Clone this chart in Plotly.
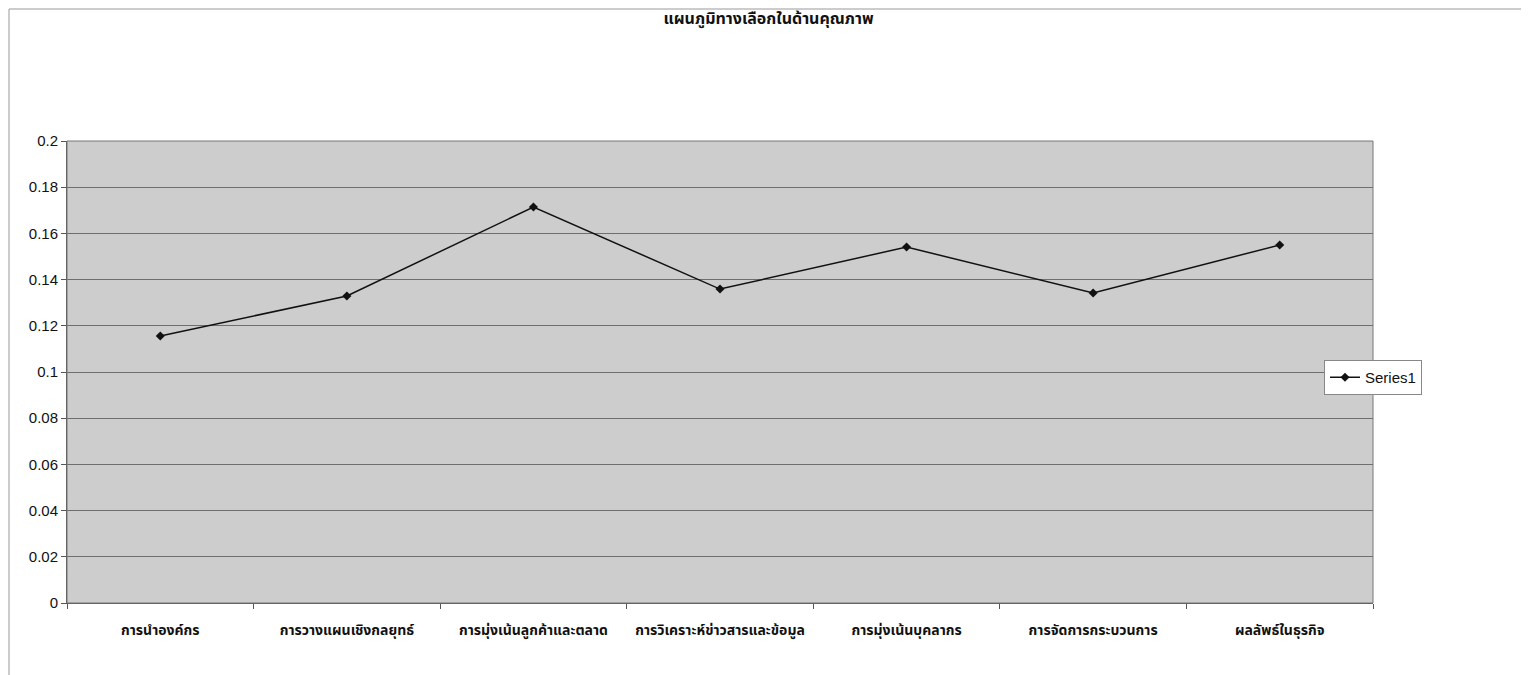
import plotly.graph_objects as go

categories = ["การนำองค์กร", "การวางแผนเชิงกลยุทธ์", "การมุ่งเน้นลูกค้าและตลาด",
              "การวิเคราะห์ข่าวสารและข้อมูล", "การมุ่งเน้นบุคลากร",
              "การจัดการกระบวนการ", "ผลลัพธ์ในธุรกิจ"]
series1 = [0.1156, 0.1329, 0.1714, 0.1359, 0.1541, 0.1342, 0.1550]
y_ticks = [0, 0.02, 0.04, 0.06, 0.08, 0.1, 0.12, 0.14, 0.16, 0.18, 0.2]
y_tick_labels = ["0", "0.02", "0.04", "0.06", "0.08", "0.1", "0.12", "0.14", "0.16", "0.18", "0.2"]

FONT = "Liberation Sans Narrow, Arial Narrow, Liberation Sans, Arial, Noto Sans Thai, sans-serif"

OFF = 8  # page body margin
W, H = 1529 - OFF, 675 - OFF
# page coordinates of plot area
L, R, T, B = 67, 1373, 141, 603

fig = go.Figure()
fig.add_trace(go.Scatter(
    x=categories, y=series1, name="Series1", mode="lines+markers",
    line=dict(color="#111111", width=1.5),
    marker=dict(symbol="diamond", size=7, color="#111111"),
))

def px(x):
    return (x - L) / (R - L)

def py(y):
    return (B - y) / (B - T)

fig.update_layout(
    width=W, height=H,
    margin=dict(l=L - OFF, r=W - (R - OFF), t=T - OFF, b=H - (B - OFF)),
    paper_bgcolor="white",
    plot_bgcolor="#cdcdcd",
    title=dict(text="<b>แผนภูมิทางเลือกในด้านคุณภาพ</b>", x=0.5, xanchor="center",
               y=1 - (18 - OFF) / H, yanchor="middle",
               font=dict(family=FONT, size=16, color="#111111")),
    font=dict(family=FONT, color="#111111"),
    showlegend=True,
    legend=dict(x=px(1324), y=py(360), xanchor="left", yanchor="top",
                bgcolor="white", bordercolor="#888888", borderwidth=1,
                font=dict(family=FONT, size=15, color="#111111")),
    xaxis=dict(type="category", tickson="boundaries", ticks="outside", ticklen=5,
               tickcolor="#555555", showgrid=False, showline=True, linecolor="#555555",
               linewidth=1, ticklabelstandoff=14,
               tickvals=categories, ticktext=[f"<b>{c}</b>" for c in categories],
               tickfont=dict(family=FONT, size=14, color="#111111"),
               range=[-0.5, 6.5]),
    yaxis=dict(range=[0, 0.2], tickvals=y_ticks, ticktext=y_tick_labels,
               ticks="outside", ticklen=5, tickcolor="#555555",
               showgrid=True, gridcolor="#6e6e6e", gridwidth=1,
               showline=True, linecolor="#555555", zeroline=False,
               tickfont=dict(family=FONT, size=15, color="#111111")),
    shapes=[
        dict(type="rect", xref="paper", yref="paper", x0=0, x1=1, y0=0, y1=1,
             line=dict(color="#777777", width=1)),
        dict(type="line", xref="paper", yref="paper", x0=px(9), x1=px(9), y0=py(9), y1=py(675),
             line=dict(color="#999999", width=1)),
        dict(type="line", xref="paper", yref="paper", x0=px(9), x1=px(1526), y0=py(9), y1=py(9),
             line=dict(color="#999999", width=1)),
        dict(type="line", xref="paper", yref="paper", x0=px(1526), x1=px(1526), y0=py(9), y1=py(675),
             line=dict(color="#999999", width=1)),
    ],
)

fig.write_html("out.html")
